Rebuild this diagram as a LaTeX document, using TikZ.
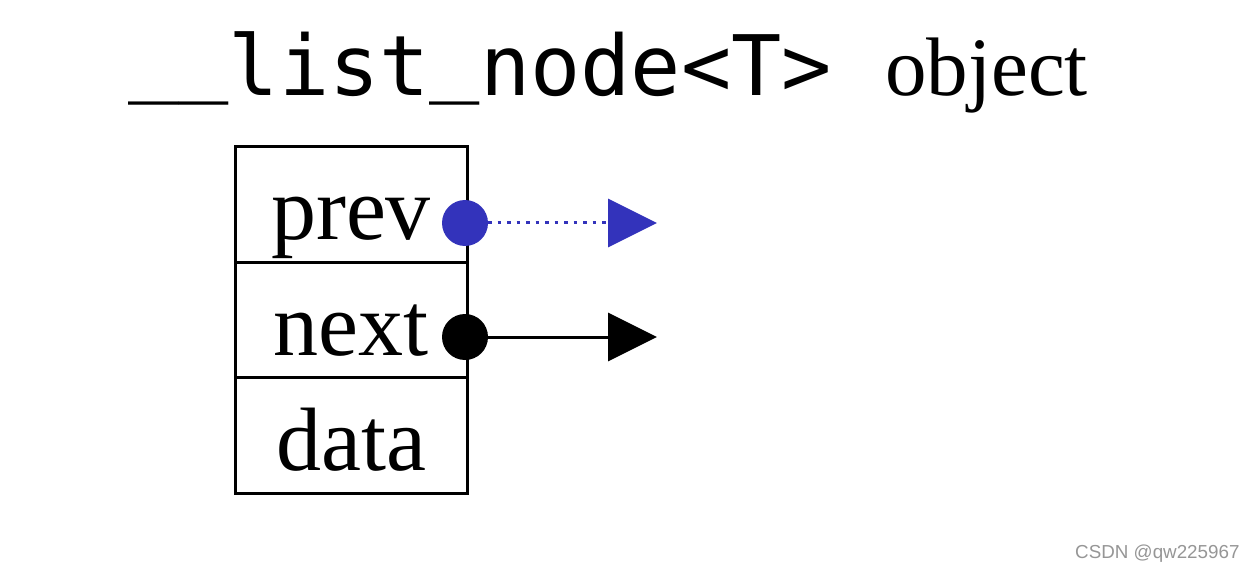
\documentclass[tikz,border=0pt]{standalone}
\usepackage{fontspec}
\setmainfont{Liberation Serif}
\setmonofont{DejaVu Sans Mono}
\setsansfont{Liberation Sans}
\usetikzlibrary{arrows.meta}
\definecolor{ptrblue}{RGB}{51,51,187}
\definecolor{wmgray}{RGB}{150,150,150}
\newcommand{\usc}{\raisebox{10pt}{\_}}
\tikzset{
  cell/.style={draw, line width=3pt, minimum width=232pt, minimum height=115.5pt,
    inner sep=0pt, text height=70pt, text depth=0pt,
    font=\fontsize{90}{100}\selectfont},
  ptrdot/.style={circle, fill, inner sep=0pt, minimum size=46pt},
  ptrline/.style={line width=3pt, -{Triangle[length=49pt,width=48pt]}},
}
\begin{document}
\begin{tikzpicture}[x=1pt,y=-1pt]
\useasboundingbox (0,0) rectangle (1256,572);
\fill[white] (0,0) rectangle (1256,572);
\node[anchor=base west, inner sep=0pt, font=\ttfamily\fontsize{83.5}{90}\selectfont] (title) at (128,96) {\usc\usc list\usc node<T>};
\node[anchor=base west, inner sep=0pt, font=\fontsize{83}{90}\selectfont] (obj) at (885,96) {object};
\node[cell] (prev) at (351,204.5) {prev};
\node[cell] (next) at (351,320) {next};
\node[cell] (data) at (351,435.5) {data};
\node[ptrdot, fill=ptrblue] (pdot) at (465,223) {};
\node[ptrdot, fill=black] (ndot) at (465,337) {};
\coordinate (pend) at (657,223);
\coordinate (nend) at (657,337);
\draw[ptrline, ptrblue, dash pattern=on 3.5pt off 6pt] (pdot.east) -- (pend);
\draw[ptrline, black] (ndot.east) -- (nend);
\node[anchor=base west, inner sep=0pt, text=wmgray, font=\sffamily\fontsize{18.8}{24}\selectfont] (wm) at (1075,558) {CSDN @qw225967};
\end{tikzpicture}
\end{document}
